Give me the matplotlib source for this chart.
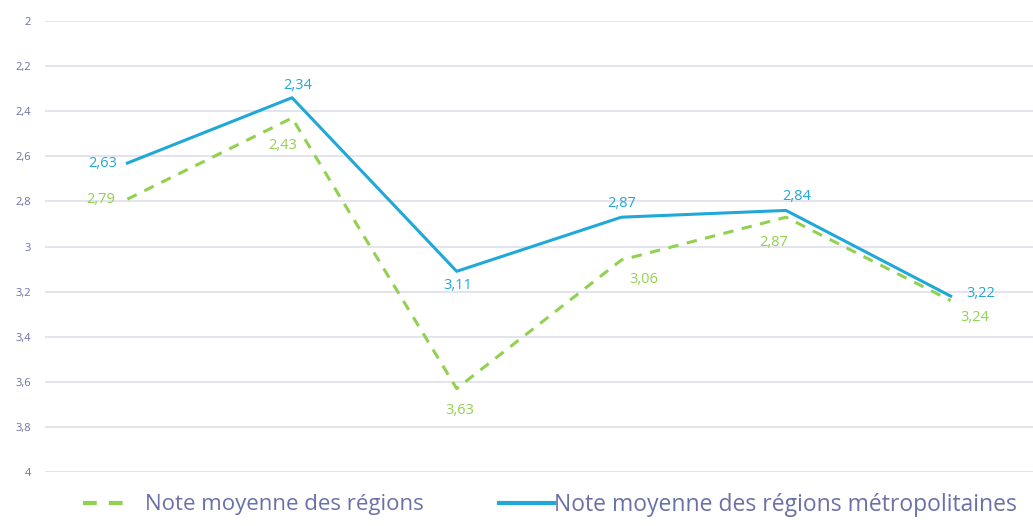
import matplotlib
matplotlib.use("Agg")
import matplotlib.pyplot as plt
from matplotlib.lines import Line2D

categories = ["A", "B", "C", "D", "E", "F"]
regions = [2.79, 2.43, 3.63, 3.06, 2.87, 3.24]
metropoles = [2.63, 2.34, 3.11, 2.87, 2.84, 3.22]
yticks = [2, 2.2, 2.4, 2.6, 2.8, 3, 3.2, 3.4, 3.6, 3.8, 4]
ytick_labels = ["2", "2,2", "2,4", "2,6", "2,8", "3", "3,2", "3,4", "3,6", "3,8", "4"]
legend_labels = ["Note moyenne des régions", "Note moyenne des régions métropolitaines"]

GREEN = "#92D050"
BLUE = "#1FA8D8"
TXT = "#6A70A8"
GRID = "#E4E4EE"

plt.rcParams['font.family'] = ['Open Sans', 'DejaVu Sans']

fig = plt.figure(figsize=(10.33, 5.26), dpi=100)
ax = fig.add_axes([0.0436, 0.1027, 0.9564, 0.8573])

x = list(range(len(categories)))
ax.plot(x, regions, color=GREEN, lw=2.2, ls=(0, (3.4, 2.8)), dash_capstyle='butt', zorder=3)
ax.plot(x, metropoles, color=BLUE, lw=2.2, zorder=4)

ax.set_ylim(4, 2)
ax.set_xlim(-0.5, 5.5)
ax.set_yticks(yticks)
ax.set_yticklabels(ytick_labels, fontsize=8, color=TXT)
ax.set_xticks([])
ax.tick_params(axis='y', length=0, pad=10)
ax.grid(axis='y', color=GRID, lw=1.4)
ax.set_axisbelow(True)
for s in ax.spines.values():
    s.set_visible(False)

def fmt(v):
    return f"{v:.2f}".replace(".", ",")

# label offsets in points (dx, dy)
blue_off = [(-18, 0), (4, 9), (1, -10), (0, 10), (8, 10), (22, 2)]
green_off = [(-19, 0), (-7, -20), (2, -16), (16, -14), (-9, -18), (17, -12)]
for i, v in enumerate(metropoles):
    dx, dy = blue_off[i]
    ax.annotate(fmt(v), (i, v), xytext=(dx, dy), textcoords='offset points',
                ha='center', va='center', color=BLUE, fontsize=10.5)
for i, v in enumerate(regions):
    dx, dy = green_off[i]
    ax.annotate(fmt(v), (i, v), xytext=(dx, dy), textcoords='offset points',
                ha='center', va='center', color=GREEN, fontsize=10.5)

h1 = Line2D([], [], color=GREEN, lw=3, ls=(0, (3.3, 2.9)))
h2 = Line2D([], [], color=BLUE, lw=3)
leg1 = fig.legend([h1], [legend_labels[0]], loc='center left', bbox_to_anchor=(0.061, 0.04),
                  frameon=False, fontsize=16, handlelength=1.85, handletextpad=0.95, labelcolor=TXT)
leg2 = fig.legend([h2], [legend_labels[1]], loc='center left', bbox_to_anchor=(0.463, 0.04),
                  frameon=False, fontsize=16.5, handlelength=2.4, handletextpad=0.02, labelcolor=TXT)

fig.savefig("out.png", dpi=100)
